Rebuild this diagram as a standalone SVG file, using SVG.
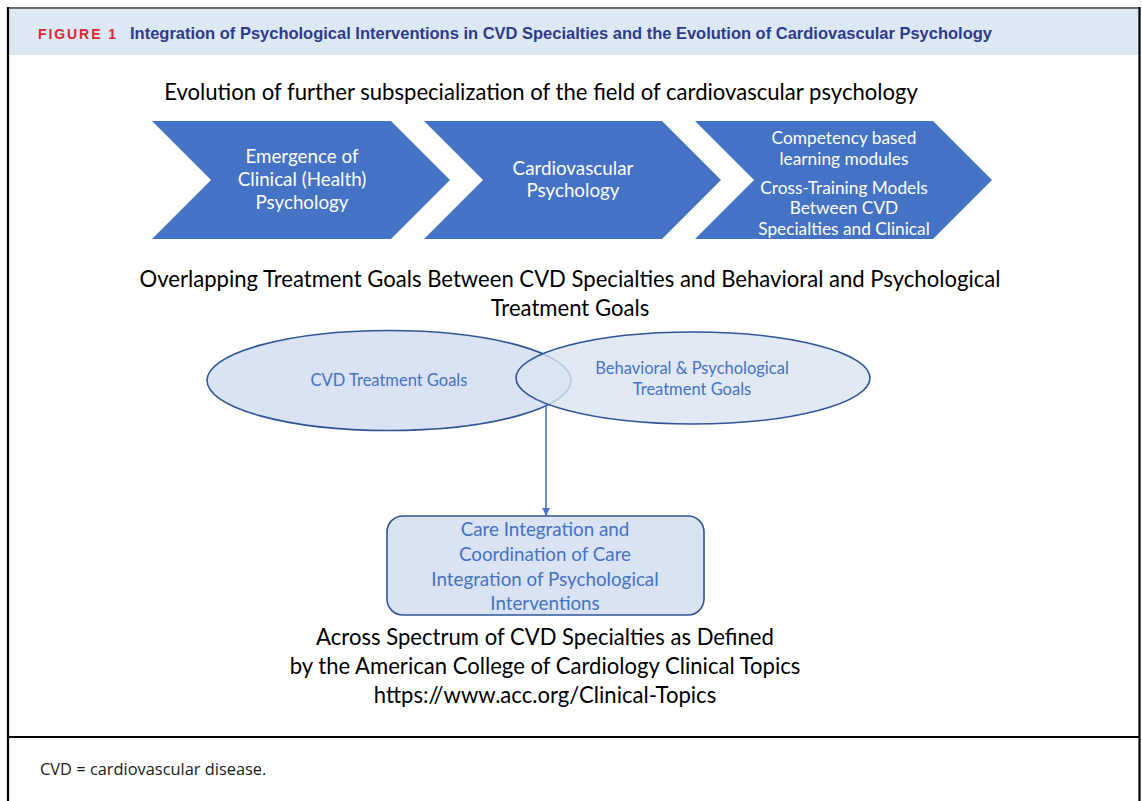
<svg xmlns="http://www.w3.org/2000/svg" width="1142" height="801" viewBox="0 0 1142 801">
  <defs>
    <style>
      .chev { fill: #4472c4; }
      .chevText { font-family: Lato, "Open Sans", sans-serif; font-size: 18.8px; fill: #ffffff; text-anchor: middle; }
      .chevSmall { font-size: 17.3px; }
      .heading { font-family: Lato, "Open Sans", sans-serif; font-size: 22.1px; fill: #000000; text-anchor: middle; }
      .goalText { font-family: Lato, "Open Sans", sans-serif; font-size: 16.5px; fill: #4472c4; text-anchor: middle; }
      .boxText { font-family: Lato, "Open Sans", sans-serif; font-size: 18.8px; fill: #4472c4; text-anchor: middle; }
      .ell { fill: #dae3f3; stroke: #2f5597; stroke-width: 1.6; }
      .conn { stroke: #4472c4; stroke-width: 1.6; fill: none; }
    </style>
    <marker id="arrowHead" viewBox="0 0 10 10" refX="9" refY="5" markerWidth="8" markerHeight="8" orient="auto" markerUnits="userSpaceOnUse">
      <path d="M0,0 L10,5 L0,10 z" fill="#4472c4"/>
    </marker>
  </defs>

  <!-- page background and frame -->
  <rect x="0" y="0" width="1142" height="801" fill="#ffffff"/>
  <rect x="8" y="8" width="1131" height="47" fill="#dde8f5"/>
  <line x1="8" y1="8" x2="1140" y2="8" stroke="#6b6b6b" stroke-width="2"/>
  <line x1="8" y1="7" x2="8" y2="801" stroke="#000000" stroke-width="2.2"/>
  <line x1="1139.5" y1="7" x2="1139.5" y2="801" stroke="#000000" stroke-width="2.2"/>
  <line x1="8" y1="737" x2="1140" y2="737" stroke="#000000" stroke-width="1.8"/>

  <!-- header -->
  <text x="38" y="38.5" font-family="'Liberation Sans', Arial, sans-serif" font-weight="bold" font-size="14" letter-spacing="2" fill="#e0262f" textLength="80">FIGURE 1</text>
  <text x="130" y="38.5" font-family="'Liberation Sans', Arial, sans-serif" font-weight="bold" font-size="16.5" fill="#2e3a8c" textLength="862" lengthAdjust="spacingAndGlyphs">Integration of Psychological Interventions in CVD Specialties and the Evolution of Cardiovascular Psychology</text>

  <!-- top heading -->
  <text class="heading" x="541" y="100">Evolution of further subspecialization of the field of cardiovascular psychology</text>

  <!-- process chevrons -->
  <g id="step-clinical-health">
    <polygon class="chev" points="152,121 391,121 450,180 391,239 152,239 211,180"/>
    <text class="chevText" x="302" y="163">Emergence of</text>
    <text class="chevText" x="302" y="186">Clinical (Health)</text>
    <text class="chevText" x="302" y="209">Psychology</text>
  </g>
  <g id="step-cardiovascular">
    <polygon class="chev" points="424,121 662,121 721,180 662,239 424,239 483,180"/>
    <text class="chevText" x="573" y="175">Cardiovascular</text>
    <text class="chevText" x="573" y="197">Psychology</text>
  </g>
  <g id="step-training">
    <polygon class="chev" points="695,121 933,121 992,180 933,239 695,239 754,180"/>
    <text class="chevText chevSmall" x="844" y="144">Competency based</text>
    <text class="chevText chevSmall" x="844" y="165">learning modules</text>
    <text class="chevText chevSmall" x="844" y="194">Cross-Training Models</text>
    <text class="chevText chevSmall" x="844" y="214">Between CVD</text>
    <text class="chevText chevSmall" x="844" y="235">Specialties and Clinical</text>
  </g>

  <!-- overlap heading -->
  <text class="heading" x="570" y="287">Overlapping Treatment Goals Between CVD Specialties and Behavioral and Psychological</text>
  <text class="heading" x="570" y="316">Treatment Goals</text>

  <!-- goal ellipses -->
  <g id="cvd-goals">
    <ellipse class="ell" cx="389" cy="380.5" rx="182" ry="50"/>
    <text class="goalText" x="389" y="386">CVD Treatment Goals</text>
  </g>
  <g id="psych-goals">
    <ellipse class="ell" cx="693" cy="378" rx="177" ry="46" fill-opacity="0.8"/>
    <text class="goalText" x="692" y="374">Behavioral &amp; Psychological</text>
    <text class="goalText" x="692" y="395">Treatment Goals</text>
  </g>

  <!-- connectors -->
  <g id="connectors">
    <line class="conn" x1="546" y1="405" x2="546" y2="515" marker-end="url(#arrowHead)"/>
  </g>

  <!-- integration box -->
  <g id="care-integration">
    <rect x="387" y="516" width="317" height="99" rx="16" ry="16" fill="#dae3f3" stroke="#2f5597" stroke-width="1.6"/>
    <text class="boxText" x="545" y="536">Care Integration and</text>
    <text class="boxText" x="545" y="561">Coordination of Care</text>
    <text class="boxText" x="545" y="586">Integration of Psychological</text>
    <text class="boxText" x="545" y="610">Interventions</text>
  </g>

  <!-- spectrum caption -->
  <text class="heading" x="545" y="645">Across Spectrum of CVD Specialties as Defined</text>
  <text class="heading" x="545" y="674">by the American College of Cardiology Clinical Topics</text>
  <text class="heading" x="545" y="703">https://www.acc.org/Clinical-Topics</text>

  <!-- footnote -->
  <text x="40" y="775" font-family="'Open Sans', 'Liberation Sans', sans-serif" font-size="16.4" fill="#1a1a1a">CVD = cardiovascular disease.</text>
</svg>
